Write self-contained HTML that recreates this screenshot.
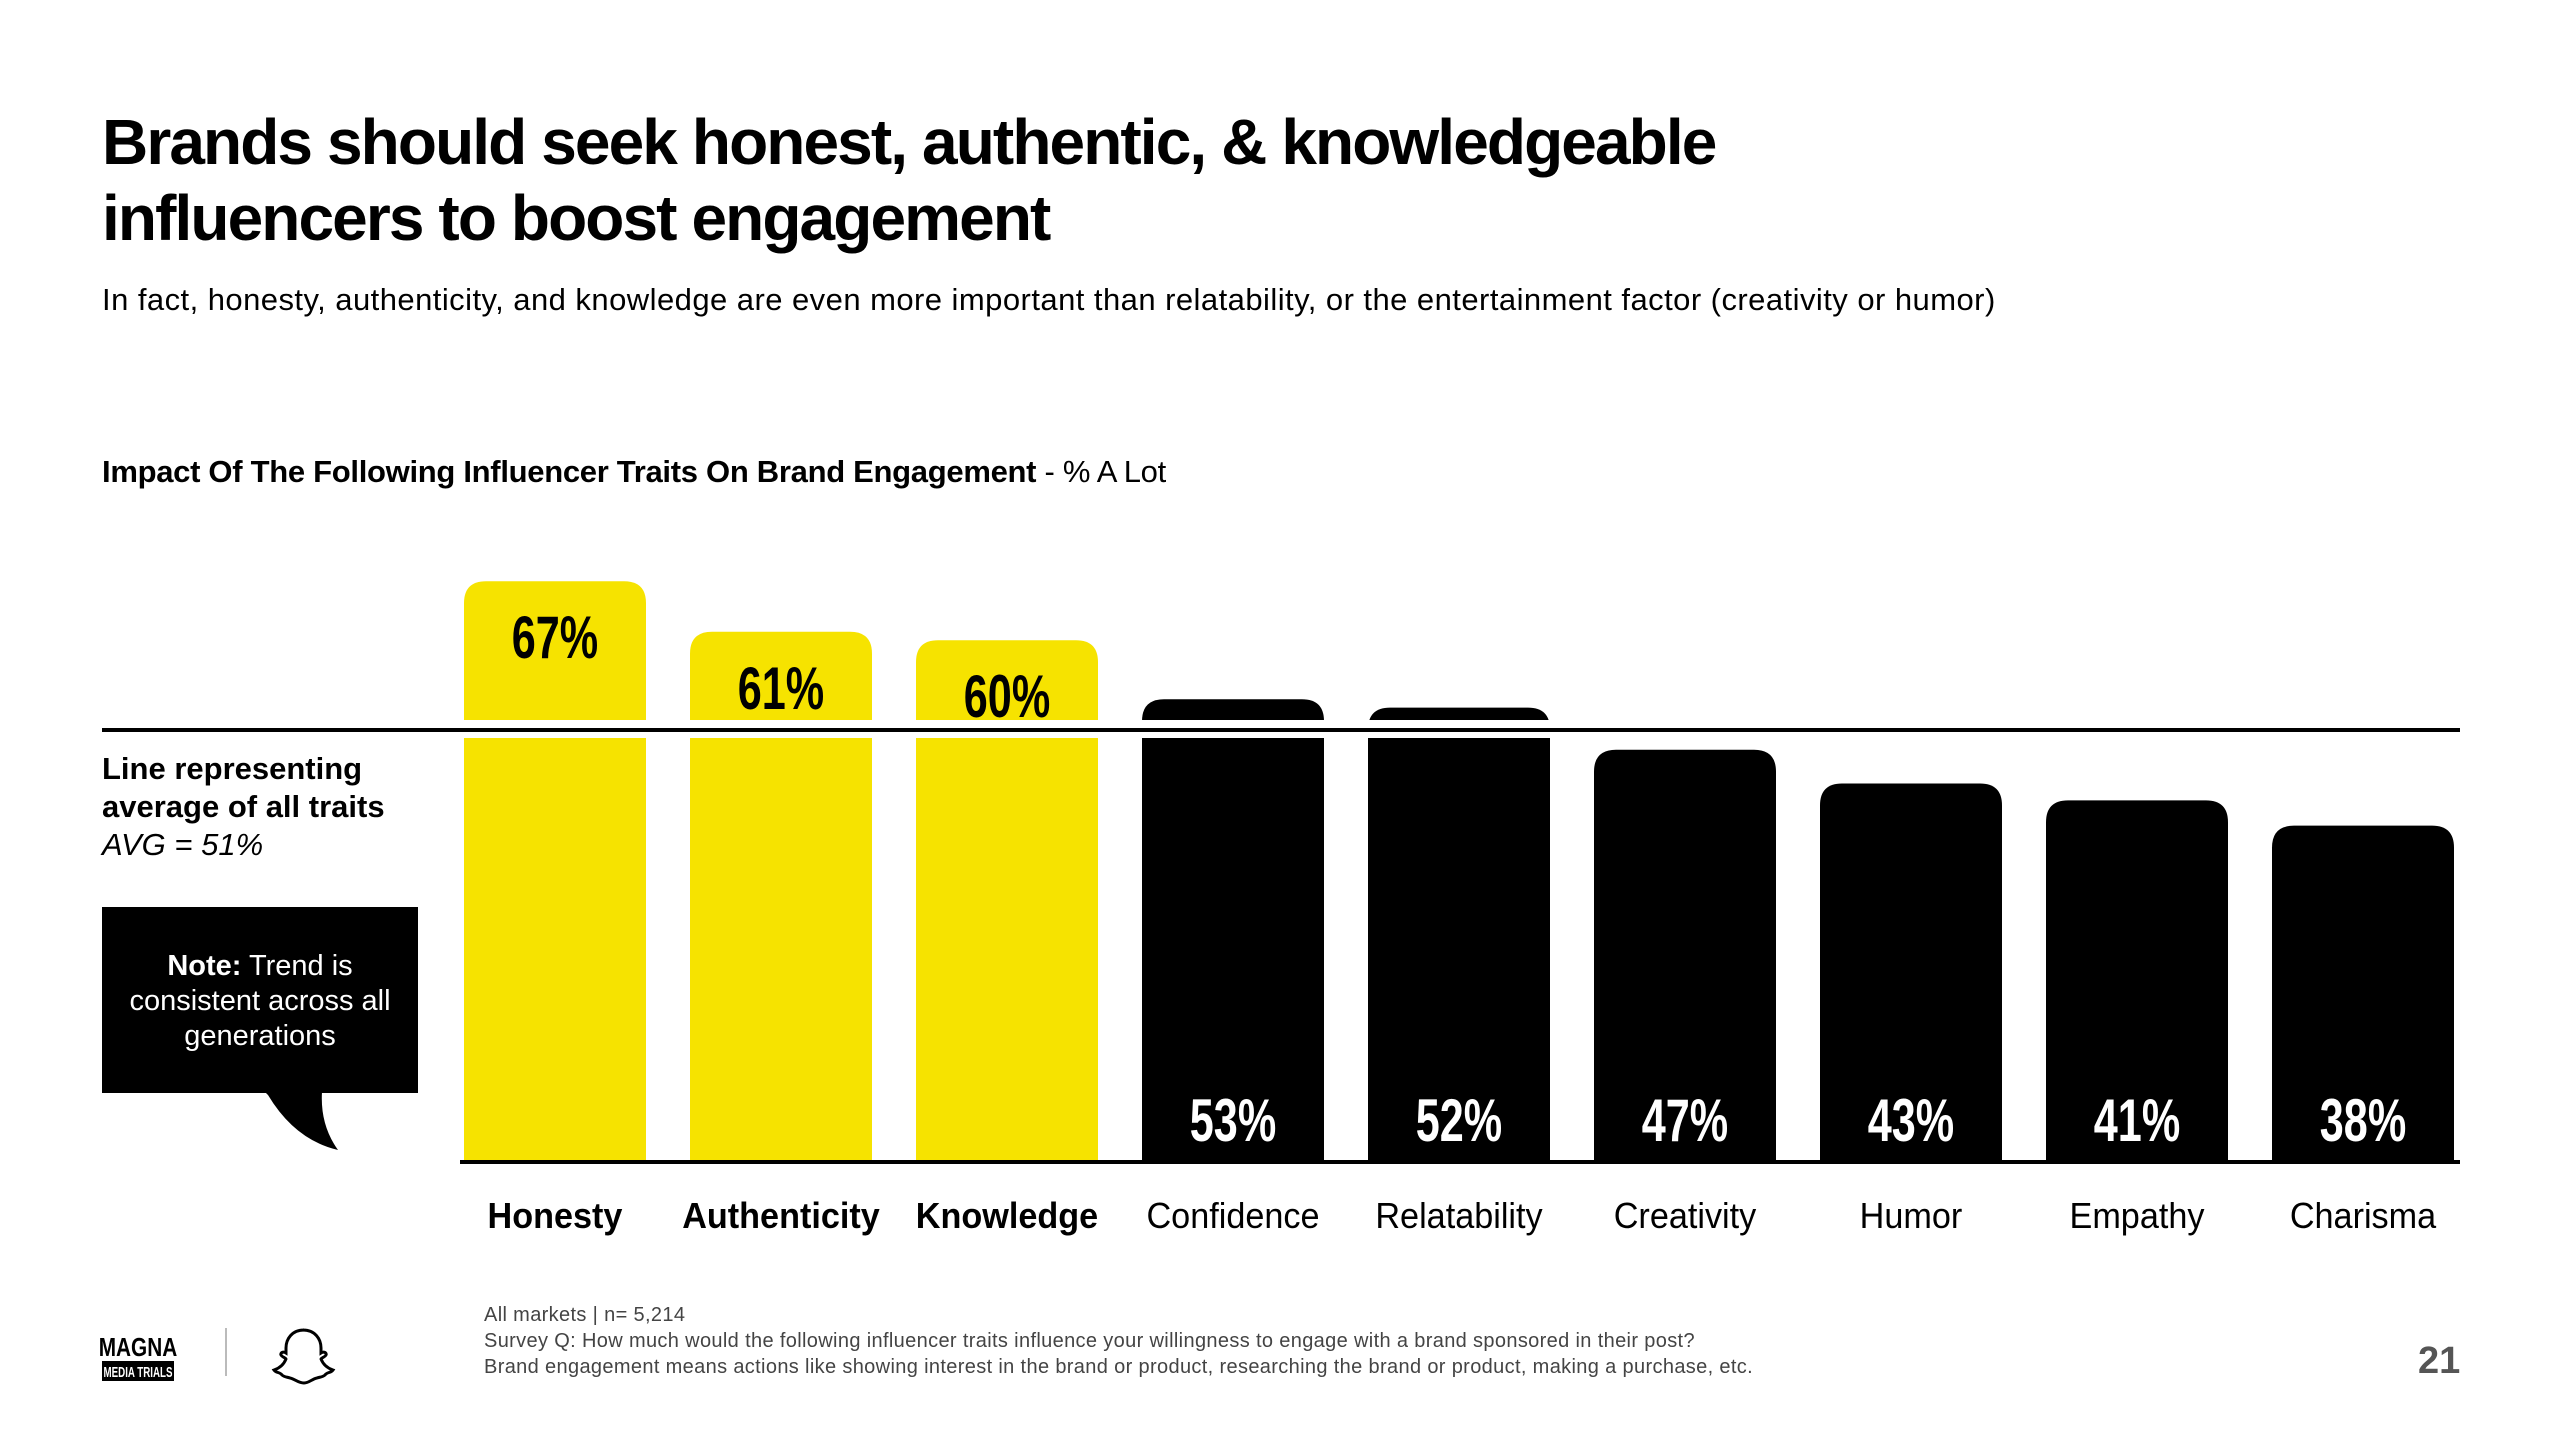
<!DOCTYPE html>
<html><head><meta charset="utf-8">
<style>
html,body{margin:0;padding:0;background:#fff;}
body{width:2560px;height:1440px;position:relative;overflow:hidden;font-family:"Liberation Sans",sans-serif;color:#000;}
.abs{position:absolute;}
#title{left:102px;top:104px;font-size:64px;font-weight:bold;line-height:76px;letter-spacing:-1.9px;}
#subtitle{left:102px;top:282px;font-size:31px;letter-spacing:0.45px;}
#chart-title{left:102px;top:454px;font-size:31px;letter-spacing:-0.3px;}
#avg-text{left:102px;top:750px;font-size:31px;line-height:38px;}
#note{left:102px;top:907px;width:316px;height:186px;background:#000;color:#fff;font-size:29px;line-height:35px;text-align:center;box-sizing:border-box;padding-top:42px;}
#footer{left:484px;top:1302px;font-size:20px;line-height:26px;color:#444;letter-spacing:0.35px;}
#page-num{left:2418px;top:1340px;font-size:38px;font-weight:bold;color:#555;}
svg text{font-family:"Liberation Sans Narrow","Liberation Sans",sans-serif;}
</style></head><body>
<div id="title" class="abs">Brands should seek honest, authentic, &amp; knowledgeable<br>influencers to boost engagement</div>
<div id="subtitle" class="abs">In fact, honesty, authenticity, and knowledge are even more important than relatability, or the entertainment factor (creativity or humor)</div>
<div id="chart-title" class="abs"><b>Impact Of The Following Influencer Traits On Brand Engagement</b> - % A Lot</div>
<div id="avg-text" class="abs"><b>Line representing<br>average of all traits</b><br><i>AVG = 51%</i></div>
<div id="note" class="abs"><b>Note:</b> Trend is<br>consistent across all<br>generations</div>
<svg class="abs" style="left:0;top:0" width="2560" height="1440">
<path d="M265,1092 L322,1092 Q320,1125 338,1150 Q295,1140 268,1095 Z" fill="#000"/>
<g id="bars"></g>
<rect x="460" y="1160" width="2000" height="4" fill="#000"/>
<g id="labels"></g>
<g>
<text x="138" y="1356" font-size="26" font-weight="bold" text-anchor="middle" fill="#000" transform="translate(138 0) scale(0.8 1) translate(-138 0)">MAGNA</text>
<rect x="102" y="1361" width="72" height="20" fill="#000"/>
<text x="138" y="1377" font-size="15" font-weight="bold" text-anchor="middle" fill="#fff" transform="translate(138 0) scale(0.65 1) translate(-138 0)">MEDIA TRIALS</text>
</g>
<rect x="225" y="1328" width="2" height="48" fill="#bbb"/>
<path d="M304,1330 c-12,0 -18,9 -18,18 l0,5 c-3,-2 -6,0 -5,2 c1,2 5,3 5,4 c-2,5 -6,9 -12,11 c2,3 6,2 8,5 c2,2 5,2 8,3 c5,1 8,5 14,5 c5,0 8,-4 13,-5 c3,-1 6,-1 8,-3 c2,-3 6,-2 8,-5 c-6,-2 -10,-6 -12,-11 c0,-1 4,-2 5,-4 c1,-2 -2,-4 -5,-2 l0,-5 c0,-9 -6,-18 -18,-18z" fill="none" stroke="#000" stroke-width="3"/>
</svg>
<div id="footer" class="abs">All markets | n= 5,214<br>Survey Q: How much would the following influencer traits influence your willingness to engage with a brand sponsored in their post?<br>Brand engagement means actions like showing interest in the brand or product, researching the brand or product, making a purchase, etc.</div>
<div id="page-num" class="abs">21</div>
<script>
const categories = ["Honesty","Authenticity","Knowledge","Confidence","Relatability","Creativity","Humor","Empathy","Charisma"];
const values = [67,61,60,53,52,47,43,41,38];
const highlighted = [true,true,true,false,false,false,false,false,false];
const avgValue = 51;

const NS="http://www.w3.org/2000/svg";
const baseY=1162, zeroY=1146, unit=8.43, x0=464, pitch=226, bw=182, r=22;
const avgLineY=730;
function y(v){return zeroY - v*unit;}
function x(i){return x0 + i*pitch;}
const bars=document.getElementById('bars');
const labels=document.getElementById('labels');
values.forEach((v,i)=>{
  const top=y(v), lx=x(i), fill=highlighted[i]?'#f6e300':'#000';
  const p=document.createElementNS(NS,'path');
  p.setAttribute('d',`M${lx},${baseY} L${lx},${top+r} Q${lx},${top} ${lx+r},${top} L${lx+bw-r},${top} Q${lx+bw},${top} ${lx+bw},${top+r} L${lx+bw},${baseY} Z`);
  p.setAttribute('fill',fill);
  
  
  bars.appendChild(p);
  const cx=lx+bw/2;
  const t=document.createElementNS(NS,'text');
  t.setAttribute('x',cx);
  t.setAttribute('y',highlighted[i]? top+77 : 1141);
  t.setAttribute('text-anchor','middle');
  t.setAttribute('font-size','60');
  t.setAttribute('font-weight','bold');
  t.setAttribute('transform',`translate(${cx} 0) scale(0.72 1) translate(${-cx} 0)`);
  t.setAttribute('fill',highlighted[i]?'#000':'#fff');
  t.textContent=v+'%';
  
  
  labels.appendChild(t);
  const c=document.createElementNS(NS,'text');
  c.setAttribute('x',cx);
  c.setAttribute('y',1228);
  c.setAttribute('text-anchor','middle');
  c.setAttribute('font-size','36');
  c.setAttribute('transform',`translate(${cx} 0) scale(0.95 1) translate(${-cx} 0)`);
  if(highlighted[i]) c.setAttribute('font-weight','bold');
  c.textContent=categories[i];
  
  
  labels.appendChild(c);
});
const gap=document.createElementNS(NS,'rect');
gap.setAttribute('x',460);gap.setAttribute('y',avgLineY-10);gap.setAttribute('width',2000);gap.setAttribute('height',18);gap.setAttribute('fill','#fff');


bars.appendChild(gap);
const al=document.createElementNS(NS,'rect');
al.setAttribute('x',102);al.setAttribute('y',avgLineY-2);al.setAttribute('width',2358);al.setAttribute('height',4);al.setAttribute('fill','#000');


bars.appendChild(al);
</script>
</body></html>
